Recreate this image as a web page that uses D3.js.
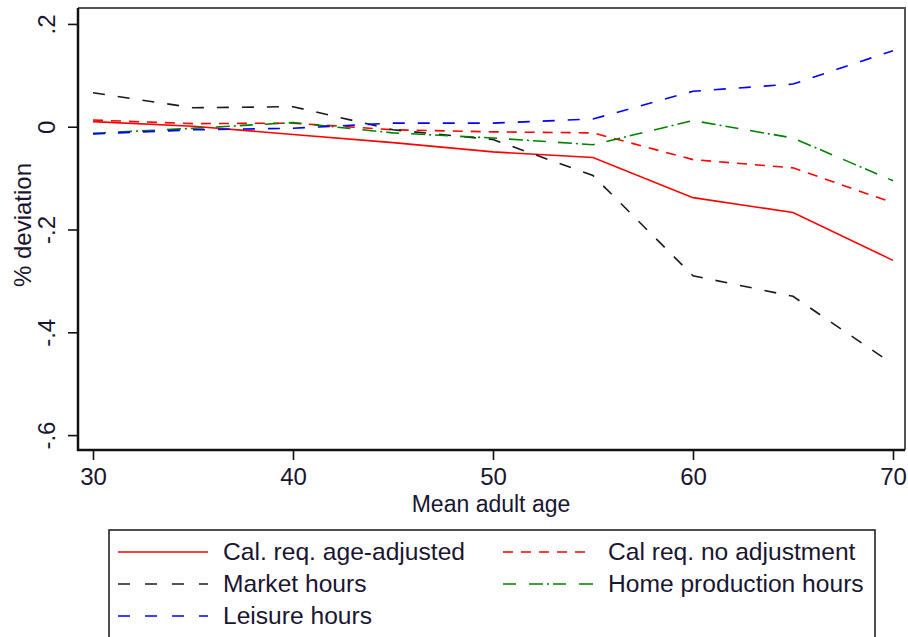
<!DOCTYPE html>
<html>
<head>
<meta charset="utf-8">
<script src="https://cdn.jsdelivr.net/npm/d3@7"></script>
<style>
  body { margin: 0; background: #fff; }
  svg { display: block; font-family: "Liberation Sans", Arial, sans-serif; }
</style>
</head>
<body>
<div id="chart"></div>
<script>
// data
var ages = [30, 35, 40, 45, 50, 55, 60, 65, 70];
var calAdj = [0.010, 0.001, -0.015, -0.031, -0.049, -0.060, -0.138, -0.167, -0.260];
var calNoAdj = [0.013, 0.006, 0.007, -0.006, -0.010, -0.012, -0.064, -0.080, -0.148];
var marketHours = [0.066, 0.037, 0.039, -0.006, -0.025, -0.095, -0.290, -0.330, -0.462];
var homeHours = [-0.013, -0.003, 0.008, -0.012, -0.022, -0.035, 0.012, -0.022, -0.105];
var leisureHours = [-0.014, -0.006, -0.003, 0.007, 0.007, 0.015, 0.069, 0.083, 0.148];

var xTicks = [30, 40, 50, 60, 70];
var yTicks = [0.2, 0, -0.2, -0.4, -0.6];

var series = [
  {name: "Cal. req. age-adjusted", values: calAdj, color: "#ff0000", dash: null, legendDash: null},
  {name: "Cal req. no adjustment", values: calNoAdj, color: "#ff0000", dash: "10,8", legendDash: "10,8"},
  {name: "Market hours", values: marketHours, color: "#1a1a1a", dash: "12,13", legendDash: "12,15"},
  {name: "Home production hours", values: homeHours, color: "#008000", dash: "13,12,14,4,2,4", legendDash: "13,13,14,4,2,4"},
  {name: "Leisure hours", values: leisureHours, color: "#0000ff", dash: "12,13", legendDash: "12,15"}
];

var W = 908, H = 637;
var plot = {left: 78, right: 905, top: 8, bottom: 450};

var svg = d3.select("#chart")
  .append("svg")
    .attr("width", W)
    .attr("height", H);

svg.append("rect").attr("width", W).attr("height", H).attr("fill", "#fff");

var x = d3.scaleLinear()
  .domain([29.25, 70.6])
  .range([plot.left, plot.right]);

var y = d3.scaleLinear()
  .domain([-0.629, 0.231])
  .range([plot.bottom, plot.top]);

// top and right frame (thin grey)
svg.append("path")
  .attr("d", "M" + plot.left + "," + plot.top + "H" + plot.right + "V" + plot.bottom)
  .attr("fill", "none")
  .attr("stroke", "#555")
  .attr("stroke-width", 2);

var fmt = function(d) {
  var v = Math.round(d * 10) / 10;
  return v === 0 ? "0" : String(v).replace("0.", ".");
};

// y axis
var yAxis = svg.append("g")
  .attr("transform", "translate(" + plot.left + ",0)")
  .call(d3.axisLeft(y).tickValues(yTicks).tickSize(10).tickFormat(fmt));
yAxis.select(".domain").remove();
yAxis.selectAll("line").attr("stroke", "#111").attr("stroke-width", 1.6);
yAxis.selectAll("text")
  .attr("transform", "rotate(-90)")
  .attr("x", 0)
  .attr("y", -23)
  .attr("dy", 0)
  .style("text-anchor", "middle")
  .style("font-size", "24px")
  .attr("fill", "#1a1530");

// x axis
var xAxis = svg.append("g")
  .attr("transform", "translate(0," + plot.bottom + ")")
  .call(d3.axisBottom(x).tickValues(xTicks).tickSize(10).tickPadding(8));
xAxis.select(".domain").remove();
xAxis.selectAll("line").attr("stroke", "#111").attr("stroke-width", 1.6);
xAxis.selectAll("text")
  .style("font-size", "24px")
  .attr("fill", "#1a1530");

// thick left and bottom axis lines
svg.append("path")
  .attr("d", "M" + plot.left + "," + plot.top + "V" + plot.bottom + "H" + plot.right)
  .attr("fill", "none")
  .attr("stroke", "#111")
  .attr("stroke-width", 2.5);

// axis titles
svg.append("text")
  .attr("x", (x(30) + x(70)) / 2 - 2)
  .attr("y", 512)
  .attr("text-anchor", "middle")
  .style("font-size", "23px")
  .attr("fill", "#1a1530")
  .text("Mean adult age");

svg.append("text")
  .attr("transform", "translate(31,225) rotate(-90)")
  .attr("text-anchor", "middle")
  .style("font-size", "24px")
  .attr("fill", "#1a1530")
  .text("% deviation");

// lines
var line = d3.line()
  .x(function(d) { return x(d[0]); })
  .y(function(d) { return y(d[1]); });

series.forEach(function(s) {
  svg.append("path")
    .datum(ages.map(function(a, i) { return [a, s.values[i]]; }))
    .attr("fill", "none")
    .attr("stroke", s.color)
    .attr("stroke-width", 1.6)
    .attr("stroke-dasharray", s.dash)
    .attr("d", line);
});

// legend
svg.append("rect")
  .attr("x", 109)
  .attr("y", 530)
  .attr("width", 766)
  .attr("height", 130)
  .attr("fill", "#fff")
  .attr("stroke", "#222")
  .attr("stroke-width", 1.6);

var legendPos = [
  {lx: 118, tx: 223, y: 552},
  {lx: 503, tx: 608, y: 552},
  {lx: 118, tx: 223, y: 584},
  {lx: 503, tx: 608, y: 584},
  {lx: 118, tx: 223, y: 616}
];

series.forEach(function(s, i) {
  var p = legendPos[i];
  svg.append("line")
    .attr("x1", p.lx).attr("x2", p.lx + 90)
    .attr("y1", p.y).attr("y2", p.y)
    .attr("stroke", s.color)
    .attr("stroke-width", 1.6)
    .attr("stroke-dasharray", s.legendDash);
  svg.append("text")
    .attr("x", p.tx)
    .attr("y", p.y + 8)
    .style("font-size", "24.6px")
    .attr("fill", "#1a1530")
    .text(s.name);
});
</script>
</body>
</html>
